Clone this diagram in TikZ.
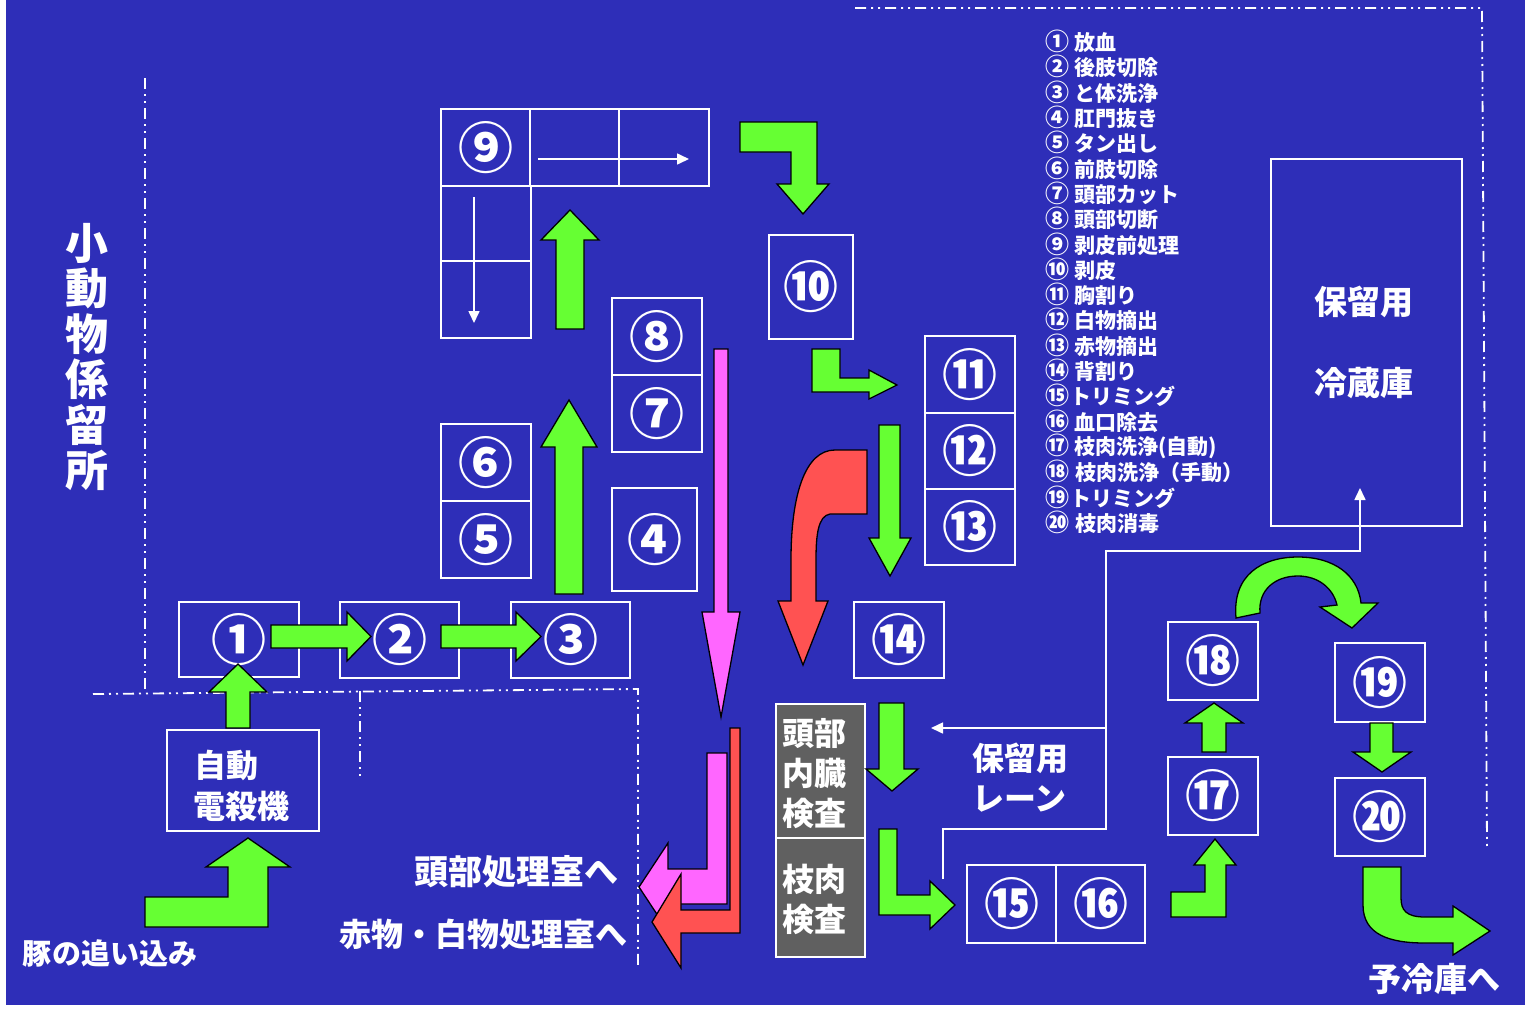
\documentclass[tikz,border=0pt]{standalone}
\usepackage{fontspec}
\setmainfont{Noto Sans CJK JP}
\usetikzlibrary{arrows.meta}
\definecolor{bg}{RGB}{46,46,184}
\definecolor{grn}{RGB}{102,255,51}
\definecolor{pnk}{RGB}{255,102,255}
\definecolor{rd}{RGB}{255,82,82}
\definecolor{gry}{RGB}{96,96,96}
\begin{document}
\begin{tikzpicture}[x=1pt,y=-1pt,
  box/.style={draw=white, line width=2pt, inner sep=0pt, text=white,
    font=\fontsize{55}{55}\selectfont\bfseries},
  gbox/.style={draw=white, line width=2pt, fill=gry, inner sep=0pt},
  blk/.style={fill=grn, draw=black, line width=1.3pt, line join=miter},
  pblk/.style={fill=pnk, draw=black, line width=1.3pt, line join=miter},
  rblk/.style={fill=rd, draw=black, line width=1.3pt, line join=miter},
  wline/.style={draw=white, line width=1.6pt},
  wtip/.style={-{Triangle[length=12pt,width=11pt]}},
  ddash/.style={draw=white, line width=1.8pt, dash pattern=on 11pt off 5pt on 2pt off 5pt on 2pt off 5pt},
  lbl/.style={text=white, inner sep=0pt, font=\fontsize{32}{40}\selectfont\bfseries},
  leg/.style={text=white, inner sep=0pt, anchor=west, font=\fontsize{21}{25}\selectfont\bfseries}
]
\useasboundingbox (0,0) rectangle (1528,1012);
\fill[white] (0,0) rectangle (1528,1012);
\fill[bg] (6,0) rectangle (1525,1005);

% dashed walls
\draw[ddash] (145,78) -- (145,690);
\draw[ddash] (93,694) -- (638,689) -- (638,965);
\draw[ddash] (360,691) -- (360,780);
\draw[ddash] (855,8) -- (1482,8) -- (1487,848);

% vertical title
\foreach \c [count=\i from 0] in {小,動,物,係,留,所}
  \node[text=white, inner sep=0pt, font=\fontsize{43}{43}\selectfont\bfseries] (v\i) at (87,243+45.5*\i) {\c};

% boxes
\node[box, minimum width=89pt, minimum height=77pt] (n9) at (485.5,147.5) {⑨};
\node[box, minimum width=89pt, minimum height=77pt] (n9b) at (574.5,147.5) {};
\node[box, minimum width=90pt, minimum height=77pt] (n9c) at (664,147.5) {};
\node[box, minimum width=90pt, minimum height=75pt] (n9d) at (486,223.5) {};
\node[box, minimum width=90pt, minimum height=77pt] (n9e) at (486,299.5) {};
\draw[wline, wtip] (538,159) -- (689,159);
\draw[wline, wtip] (474,197) -- (474,323);

\node[box, minimum width=90pt, minimum height=77pt] (n8) at (657,336.5) {⑧};
\node[box, minimum width=90pt, minimum height=77pt] (n7) at (657,413.5) {⑦};
\node[box, minimum width=90pt, minimum height=77pt] (n6) at (486,462.5) {⑥};
\node[box, minimum width=90pt, minimum height=77pt] (n5) at (486,539.5) {⑤};
\node[box, minimum width=85pt, minimum height=103pt] (n4) at (654.5,539.5) {④};
\node[box, minimum width=120pt, minimum height=75pt] (n1) at (239,639.5) {①};
\node[box, minimum width=119pt, minimum height=76pt] (n2) at (399.5,640) {②};
\node[box, minimum width=119pt, minimum height=76pt] (n3) at (570.5,640) {③};
\node[box, minimum width=152pt, minimum height=101pt] (nk) at (243,780.5) {};
\node[lbl, anchor=west] (tk1) at (194,765) {自動};
\node[lbl, anchor=west] (tk2) at (193,806) {電殺機};

\node[box, minimum width=84pt, minimum height=104pt] (n10) at (811,287) {⑩};
\node[box, minimum width=90pt, minimum height=77pt] (n11) at (970,374.5) {⑪};
\node[box, minimum width=90pt, minimum height=76pt] (n12) at (970,451) {⑫};
\node[box, minimum width=90pt, minimum height=76pt] (n13) at (970,527) {⑬};
\node[box, minimum width=90pt, minimum height=76pt] (n14) at (899,640) {⑭};
\node[gbox, minimum width=89pt, minimum height=134pt] (g1) at (820.5,771) {};
\node[gbox, minimum width=89pt, minimum height=119pt] (g2) at (820.5,897.5) {};
\node[lbl, align=left, anchor=west] (tg1) at (782,774) {頭部\\内臓\\検査};
\node[lbl, align=left, anchor=west] (tg2) at (782,899) {枝肉\\検査};
\node[box, minimum width=89pt, minimum height=78pt] (n15) at (1011.5,904) {⑮};
\node[box, minimum width=89pt, minimum height=78pt] (n16) at (1100.5,904) {⑯};
\node[box, minimum width=90pt, minimum height=78pt] (n17) at (1213,796) {⑰};
\node[box, minimum width=90pt, minimum height=78pt] (n18) at (1213,661) {⑱};
\node[box, minimum width=90pt, minimum height=79pt] (n19) at (1380,682.5) {⑲};
\node[box, minimum width=90pt, minimum height=78pt] (n20) at (1380,817) {⑳};
\node[box, minimum width=191pt, minimum height=367pt] (ns) at (1366.5,342.5) {};
\node[lbl, font=\fontsize{33}{40}\selectfont\bfseries] (ts1) at (1364,302) {保留用};
\node[lbl, font=\fontsize{33}{40}\selectfont\bfseries] (ts2) at (1364,383) {冷蔵庫};

% lane
\coordinate (la) at (943,879);
\coordinate (lb) at (1106,728);
\draw[wline, wtip] (la) -- (943,829) -- (1106,829) -- (1106,551) -- (1360,551) -- (1360,488);
\draw[wline, wtip] (lb) -- (931,728);
\node[lbl, align=left, anchor=west] (tl) at (972,778) {保留用\\レーン};

% legend
\foreach \n/\t/\g [count=\i from 0] in {①/放血/5,②/後肢切除/5,③/と体洗浄/5,④/肛門抜き/5,⑤/タン出し/5,⑥/前肢切除/5,⑦/頭部カット/5,⑧/頭部切断/5,⑨/剥皮前処理/5,⑩/剥皮/5,⑪/胸割り/5,⑫/白物摘出/5,⑬/赤物摘出/5,⑭/背割り/5,⑮/トリミング/1,⑯/血口除去/5,⑰/枝肉洗浄(自動)/5,⑱/枝肉洗浄（手動）/6,⑲/トリミング/1,⑳/枝肉消毒/6}
  \node[leg] (leg\i) at (1045,41.5+25.3*\i) {{\fontsize{24}{25}\selectfont\n}\hspace{\g pt}\t};

% outer labels
\node[text=white, inner sep=0pt, font=\fontsize{29}{29}\selectfont\bfseries] (tpig) at (110,953) {豚の追い込み};
\node[lbl, anchor=east, font=\fontsize{34}{40}\selectfont\bfseries] (thead) at (619,872) {頭部処理室へ};
\node[lbl, anchor=east] (tred) at (628,934) {赤物・白物処理室へ};
\node[lbl, font=\fontsize{33}{40}\selectfont\bfseries] (tpre) at (1434,979) {予冷庫へ};

% green block arrows
\draw[blk] (271,625) -- (347,625) -- (347,612) -- (371,636.5) -- (347,661) -- (347,648) -- (271,648) -- cycle;
\draw[blk] (441,625) -- (516,625) -- (516,612) -- (541,636.5) -- (516,661) -- (516,648) -- (441,648) -- cycle;
\draw[blk] (226,728) -- (226,692) -- (209,692) -- (238,664) -- (267,692) -- (250,692) -- (250,728) -- cycle;
\draw[blk] (145,897) -- (228,897) -- (228,867) -- (206,867) -- (248,838) -- (290,867) -- (268,867) -- (268,927) -- (145,927) -- cycle;
\draw[blk] (555,594) -- (555,447) -- (541,447) -- (569,400) -- (597,447) -- (583,447) -- (583,594) -- cycle;
\draw[blk] (556,329) -- (556,240) -- (541,240) -- (570,210) -- (599,240) -- (584,240) -- (584,329) -- cycle;
\draw[blk] (740,122) -- (817,122) -- (817,184) -- (829,184) -- (803,214) -- (777,184) -- (791,184) -- (791,152) -- (740,152) -- cycle;
\draw[blk] (812,349) -- (840,349) -- (840,378) -- (869,378) -- (869,370) -- (897,385) -- (869,399) -- (869,392) -- (812,392) -- cycle;
\draw[blk] (879,425) -- (900,425) -- (900,538) -- (911,538) -- (890,576) -- (869,538) -- (879,538) -- cycle;
\draw[blk] (879,703) -- (904,703) -- (904,769) -- (918,769) -- (892,791) -- (866,769) -- (879,769) -- cycle;
\draw[blk] (879,829) -- (897,829) -- (897,895) -- (930,895) -- (930,881) -- (955,905) -- (930,929) -- (930,915) -- (879,915) -- cycle;
\draw[blk] (1171,892) -- (1205,892) -- (1205,865) -- (1194,865) -- (1215,839) -- (1236,865) -- (1226,865) -- (1226,917) -- (1171,917) -- cycle;
\draw[blk] (1202,752) -- (1202,723) -- (1185,723) -- (1214,703) -- (1243,723) -- (1226,723) -- (1226,752) -- cycle;
\draw[blk] (1370,723) -- (1393,723) -- (1393,752) -- (1411,752) -- (1382,772) -- (1353,752) -- (1370,752) -- cycle;
\draw[blk] (1236,618) .. controls (1232,575) and (1262,557) .. (1298,557) .. controls (1334,557) and (1358,575) .. (1361,603) -- (1378,603) -- (1352,628) -- (1320,607) -- (1337,605) .. controls (1333,588) and (1318,576) .. (1298,576) .. controls (1275,576) and (1258,590) .. (1260,613) -- cycle;
\draw[blk] (1363,867) -- (1363,905) .. controls (1363,935) and (1390,943) .. (1425,943) -- (1453,943) -- (1453,955) -- (1490,931) -- (1453,906) -- (1453,917) -- (1425,917) .. controls (1406,917) and (1401,910) .. (1401,898) -- (1401,867) -- cycle;

% pink and red arrows
\draw[pblk] (714,349) -- (728,349) -- (728,612) -- (740,612) -- (721,717) -- (702,612) -- (714,612) -- cycle;
\draw[rblk] (867,450) -- (867,514) -- (830,514) .. controls (818,516) and (816,535) .. (816,560) -- (816,601) -- (828,601) -- (803,665) -- (778,601) -- (791,601) -- (791,560) .. controls (791,495) and (805,450) .. (835,450) -- cycle;
\draw[pblk] (707,753) -- (727,753) -- (727,904) -- (668,904) -- (668,931) -- (639,887) -- (668,843) -- (668,869) -- (707,869) -- cycle;
\draw[rblk] (730,728) -- (740,728) -- (740,933) -- (681,933) -- (681,968) -- (652,922) -- (681,874) -- (681,910) -- (730,910) -- cycle;
\end{tikzpicture}
\end{document}
